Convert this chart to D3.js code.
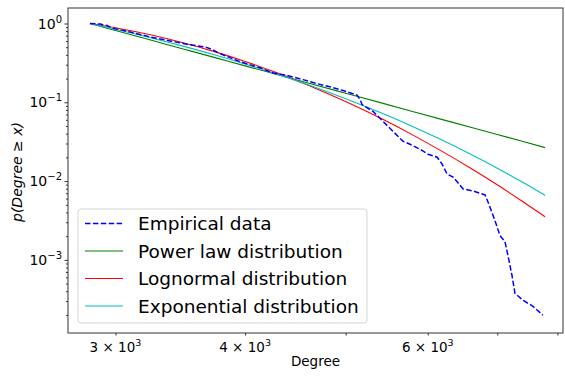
<html>
<head>
<script src="https://d3js.org/d3.v7.min.js"></script>
<style>
    body { margin: 0; background: #fff; }
    text { font-family: "DejaVu Sans", sans-serif; fill: #000; }
</style>
</head>
<body>
<svg id="chart" width="565" height="376"></svg>
<script>
// empirical CCDF
const empX = [2835, 2899, 2944, 2977, 3099, 3240, 3386, 3540, 3660, 3726, 3767, 3957, 4135, 4246, 4401, 4549, 4692, 4862, 4972, 5128, 5162, 5186, 5314, 5433, 5555, 5680, 5768, 5898, 6004, 6126, 6194, 6263, 6347, 6490, 6635, 6814, 6858, 6966, 7043, 7121, 7169, 7233, 7281, 7411, 7577, 7747];
const empY = [1.0, 0.986, 0.944, 0.877, 0.781, 0.676, 0.601, 0.536, 0.505, 0.463, 0.4244, 0.3268, 0.2746, 0.2374, 0.2177, 0.1938, 0.1725, 0.1536, 0.1408, 0.1235, 0.1083, 0.0937, 0.0765, 0.0572, 0.0428, 0.0320, 0.0293, 0.02536, 0.02194, 0.0201, 0.0164, 0.01227, 0.01124, 0.00794, 0.00749, 0.00667, 0.00544, 0.00313, 0.002026, 0.001702, 0.001133, 0.000634, 0.000376, 0.000307, 0.000258, 0.000198];

// fitted curves, sampled at these degrees
const fitX = [2835, 3000, 3250, 3500, 3750, 4000, 4300, 4600, 5000, 5400, 5800, 6200, 6600, 7000, 7400, 7784];
const powerY = [1.0, 0.816, 0.612, 0.469, 0.366, 0.290, 0.224, 0.176, 0.1305, 0.0990, 0.0766, 0.0603, 0.0482, 0.0390, 0.0320, 0.0266];
const lognormY = [1.0, 0.884, 0.713, 0.561, 0.433, 0.330, 0.2346, 0.1651, 0.1023, 0.0630, 0.0386, 0.02365, 0.01454, 0.00897, 0.00554, 0.00352];
const expoY = [1.0, 0.846, 0.656, 0.509, 0.395, 0.3065, 0.226, 0.1667, 0.1111, 0.0740, 0.0493, 0.0329, 0.0219, 0.01459, 0.00972, 0.00658];

const seriesNames = ["Empirical data", "Power law distribution", "Lognormal distribution", "Exponential distribution"];
const seriesColors = ["#0000ff", "#008000", "#ff0000", "#00bfbf"];

const xTickVals = [3000, 4000, 6000];
const xTickBase = ["3", "4", "6"];
const yTickExp = [0, -1, -2, -3];

const svg = d3.select("svg#chart");
const margin = { top: 8, right: 2, bottom: 43, left: 68 };
const width = +svg.attr("width");
const height = +svg.attr("height");

const x = d3.scaleLog().domain([2700, 8100]).range([margin.left, width - margin.right]);
const y = d3.scaleLog().domain([1.18e-4, 1.573]).range([height - margin.bottom, margin.top]);

// lines
const line = d3.line().x(d => x(d[0])).y(d => y(d[1]));
const lineSmooth = d3.line().x(d => x(d[0])).y(d => y(d[1])).curve(d3.curveMonotoneX);

const plot = svg.append("g");
const fits = [powerY, lognormY, expoY];
fits.forEach((ys, i) => {
    plot.append("path")
        .attr("d", lineSmooth(fitX.map((v, j) => [v, ys[j]])))
        .attr("fill", "none")
        .attr("stroke", seriesColors[i + 1])
        .attr("stroke-width", 1.1);
});
plot.append("path")
    .attr("d", line(empX.map((v, j) => [v, empY[j]])))
    .attr("fill", "none")
    .attr("stroke", seriesColors[0])
    .attr("stroke-width", 1.5)
    .attr("stroke-dasharray", "5.5,2.4");

// axes
const xMinor = [3000, 4000, 5000, 6000, 7000, 8000];
svg.append("g")
    .attr("transform", `translate(0,${height - margin.bottom})`)
    .call(d3.axisBottom(x).tickValues(xMinor).tickSize(2.5).tickFormat(""))
    .call(g => g.select(".domain").remove())
    .call(g => g.selectAll("line").attr("stroke", "#333"));

const yMinor = [];
for (let e = -4; e <= 0; e++) {
    for (let k = 2; k <= 9; k++) {
        const v = k * Math.pow(10, e);
        if (v >= 1.18e-4 && v <= 1.573) yMinor.push(v);
    }
}
svg.append("g")
    .attr("transform", `translate(${margin.left},0)`)
    .call(d3.axisLeft(y).tickValues(yMinor).tickSize(2).tickFormat(""))
    .call(g => g.select(".domain").remove())
    .call(g => g.selectAll("line").attr("stroke", "#333"));
svg.append("g")
    .attr("transform", `translate(${margin.left},0)`)
    .call(d3.axisLeft(y).tickValues(yTickExp.map(e => Math.pow(10, e))).tickSize(3.5).tickFormat(""))
    .call(g => g.select(".domain").remove())
    .call(g => g.selectAll("line").attr("stroke", "#333"));

// frame
svg.append("rect")
    .attr("x", margin.left).attr("y", margin.top)
    .attr("width", width - margin.left - margin.right)
    .attr("height", height - margin.top - margin.bottom)
    .attr("fill", "none").attr("stroke", "#333").attr("stroke-width", 1);

// y tick labels
yTickExp.forEach(e => {
    const t = svg.append("text")
        .attr("x", 62).attr("y", y(Math.pow(10, e)) + 5)
        .attr("text-anchor", "end")
        .style("font-size", "14px");
    t.append("tspan").text("10");
    t.append("tspan").attr("dy", -6).style("font-size", "10px").text(e < 0 ? "\u2212" + (-e) : String(e));
});

// x tick labels
xTickVals.forEach((v, i) => {
    const t = svg.append("text")
        .attr("x", x(v)).attr("y", height - margin.bottom + 19)
        .attr("text-anchor", "middle")
        .style("font-size", "13.5px");
    t.append("tspan").text(xTickBase[i] + " \u00d7 10");
    t.append("tspan").attr("dy", -6).style("font-size", "9.5px").text("3");
});

// axis labels
svg.append("text")
    .attr("x", (margin.left + width - margin.right) / 2).attr("y", 366)
    .attr("text-anchor", "middle")
    .style("font-size", "13.5px")
    .text("Degree");

svg.append("text")
    .attr("transform", "translate(22,172) rotate(-90)")
    .attr("text-anchor", "middle")
    .style("font-size", "14px")
    .style("font-style", "italic")
    .text("p(Degree \u2265 x)");

// legend
const lg = svg.append("g");
lg.append("rect")
    .attr("x", 78).attr("y", 209).attr("width", 289).attr("height", 114)
    .attr("rx", 3)
    .attr("fill", "#fff").attr("fill-opacity", 0.8)
    .attr("stroke", "#d5d5d5");
seriesNames.forEach((name, i) => {
    const yy = 223.5 + i * 27.5;
    lg.append("line")
        .attr("x1", 85).attr("x2", 123).attr("y1", yy).attr("y2", yy)
        .attr("stroke", seriesColors[i])
        .attr("stroke-width", i === 0 ? 1.5 : 1.1)
        .attr("stroke-dasharray", i === 0 ? "5.5,2.4" : null);
    lg.append("text")
        .attr("x", 138).attr("y", yy + 6.5)
        .style("font-size", "18.5px")
        .text(name);
});
</script>
</body>
</html>
